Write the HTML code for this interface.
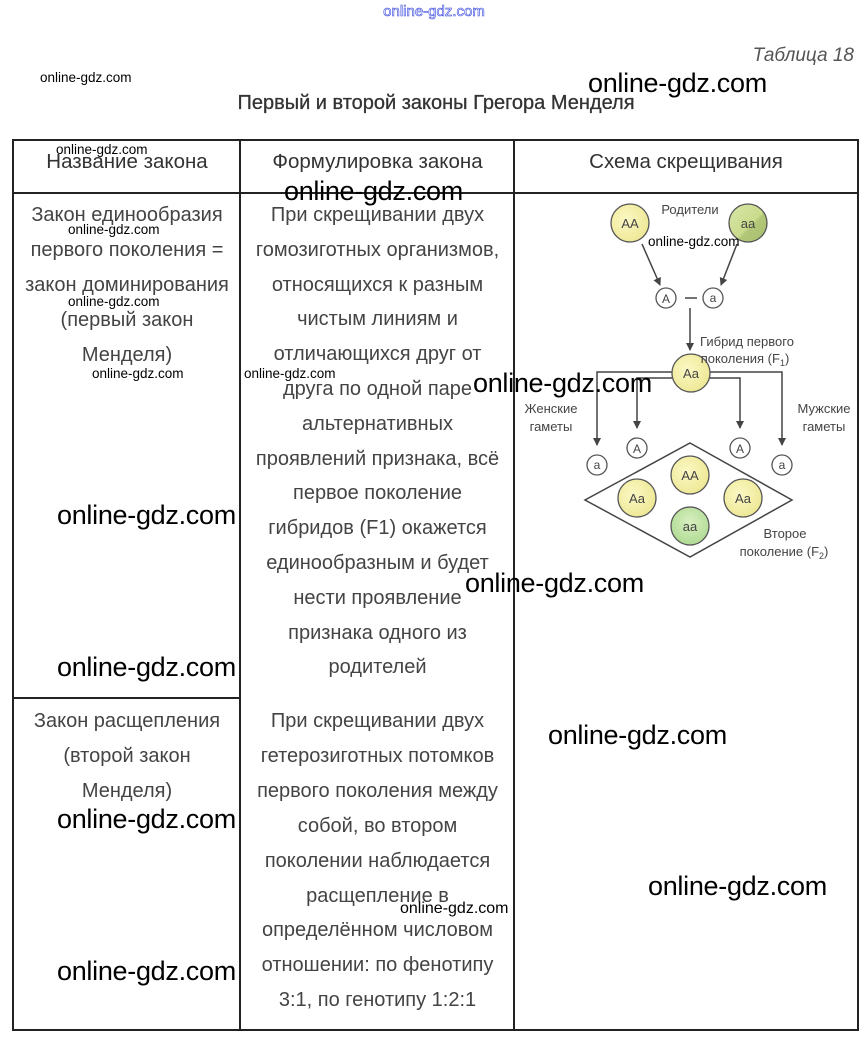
<!DOCTYPE html>
<html><head><meta charset="utf-8"><style>
body{margin:0;width:868px;height:1045px;background:#fff;position:relative;overflow:hidden;font-family:"Liberation Sans",sans-serif}
.t{position:absolute;font-size:20px;color:#444;line-height:20px;text-align:center;white-space:nowrap}
.w{position:absolute;color:#000;white-space:nowrap;line-height:1}
.wb{font-size:27px;letter-spacing:-0.3px}
.ws{font-size:13.5px}
.l{position:absolute;background:#222}
</style></head><body>
<div class="t" style="left:0;width:868px;top:2px;font-size:15px;color:#fff;-webkit-text-stroke:0.6px #3344dd">online-gdz.com</div>
<div class="t" style="right:14px;top:46px;font-style:italic;font-size:19px;color:#555">Таблица 18</div>
<div class="t" style="left:0;width:872px;top:93px;font-size:20px;color:#333;-webkit-text-stroke:0.3px #333">Первый и второй законы Грегора Менделя</div>

<div class="l" style="left:13px;top:139px;width:846px;height:2px"></div>
<div class="l" style="left:13px;top:192px;width:846px;height:2px"></div>
<div class="l" style="left:13px;top:697px;width:228px;height:2px"></div>
<div class="l" style="left:13px;top:1029px;width:846px;height:2px"></div>
<div class="l" style="left:12px;top:139px;width:2px;height:892px"></div>
<div class="l" style="left:239px;top:139px;width:2px;height:892px"></div>
<div class="l" style="left:513px;top:139px;width:2px;height:892px"></div>
<div class="l" style="left:857px;top:139px;width:2px;height:892px"></div>

<div class="t" style="left:14px;width:226px;top:152px;color:#333;font-size:20.5px">Название закона</div>
<div class="t" style="left:241px;width:273px;top:152px;color:#333;font-size:20.5px">Формулировка закона</div>
<div class="t" style="left:515px;width:342px;top:152px;color:#333;font-size:20.5px">Схема скрещивания</div>

<div class="t" style="left:14px;width:226px;top:198px;line-height:35px">Закон единообразия<br>первого поколения =<br>закон доминирования<br>(первый закон<br>Менделя)</div>
<div class="t" style="left:241px;width:273px;top:198px;line-height:34.8px">При скрещивании двух<br>гомозиготных организмов,<br>относящихся к разным<br>чистым линиям и<br>отличающихся друг от<br>друга по одной паре<br>альтернативных<br>проявлений признака, всё<br>первое поколение<br>гибридов (F1) окажется<br>единообразным и будет<br>нести проявление<br>признака одного из<br>родителей</div>

<div class="t" style="left:14px;width:226px;top:704px;line-height:35px">Закон расщепления<br>(второй закон<br>Менделя)</div>
<div class="t" style="left:241px;width:273px;top:704px;line-height:34.9px">При скрещивании двух<br>гетерозиготных потомков<br>первого поколения между<br>собой, во втором<br>поколении наблюдается<br>расщепление в<br>определённом числовом<br>отношении: по фенотипу<br>3:1, по генотипу 1:2:1</div>

<svg style="position:absolute;left:0;top:0" width="868" height="1045" font-family="Liberation Sans,sans-serif" font-size="13" fill="#555">
<defs>
<marker id="a" markerWidth="8" markerHeight="8" refX="7" refY="4" orient="auto" markerUnits="userSpaceOnUse"><path d="M0,0 L8,4 L0,8 Z" fill="#444"/></marker>
<radialGradient id="y" cx="0.4" cy="0.4" r="0.7"><stop offset="0" stop-color="#fbf8c4"/><stop offset="1" stop-color="#ece690"/></radialGradient>
<linearGradient id="g" x1="0" y1="0" x2="1" y2="1"><stop offset="0" stop-color="#d9e7a8"/><stop offset="0.55" stop-color="#c9db8c"/><stop offset="0.6" stop-color="#b3c778"/><stop offset="1" stop-color="#a9bd70"/></linearGradient>
<radialGradient id="g2" cx="0.5" cy="0.4" r="0.7"><stop offset="0" stop-color="#d9efc0"/><stop offset="1" stop-color="#a8d88c"/></radialGradient>
</defs>
<g stroke="#444" stroke-width="1.5" fill="none">
<line x1="642" y1="244" x2="660" y2="285" marker-end="url(#a)"/>
<line x1="737" y1="244" x2="721" y2="285" marker-end="url(#a)"/>
<line x1="685" y1="298" x2="697" y2="298"/>
<line x1="690" y1="308" x2="690" y2="350" marker-end="url(#a)"/>
<polyline points="672,372 597,372 597,445" marker-end="url(#a)"/>
<polyline points="672,378 637,378 637,428" marker-end="url(#a)"/>
<polyline points="709,378 740,378 740,428" marker-end="url(#a)"/>
<polyline points="709,372 782,372 782,445" marker-end="url(#a)"/>
<polygon points="690,443 792,500 690,557 585,500"/>
</g>
<g stroke="#555" stroke-width="1.3">
<circle cx="630" cy="223" r="19" fill="url(#y)"/>
<circle cx="748" cy="223" r="19" fill="url(#g)"/>
<circle cx="691" cy="373" r="19" fill="url(#y)"/>
<circle cx="690" cy="475" r="19" fill="url(#y)"/>
<circle cx="637" cy="498" r="19" fill="url(#y)"/>
<circle cx="743" cy="498" r="19" fill="url(#y)"/>
<circle cx="690" cy="526" r="19" fill="url(#g2)"/>
<circle cx="666" cy="298" r="10" fill="#fff"/>
<circle cx="713" cy="298" r="10" fill="#fff"/>
<circle cx="597" cy="465" r="10" fill="#fff"/>
<circle cx="637" cy="448" r="10" fill="#fff"/>
<circle cx="740" cy="448" r="10" fill="#fff"/>
<circle cx="782" cy="465" r="10" fill="#fff"/>
</g>
<g text-anchor="middle" fill="#444">
<text x="630" y="228">AA</text><text x="748" y="228">aa</text>
<text x="691" y="378">Aa</text><text x="690" y="480">AA</text>
<text x="637" y="503">Aa</text><text x="743" y="503">Aa</text><text x="690" y="531">aa</text>
<text x="666" y="303" font-size="12">A</text><text x="713" y="302" font-size="12">a</text>
<text x="597" y="469" font-size="12">a</text><text x="637" y="453" font-size="12">A</text>
<text x="740" y="453" font-size="12">A</text><text x="782" y="469" font-size="12">a</text>
<text x="690" y="214">Родители</text>
<text x="747" y="346">Гибрид первого</text>
<text x="745" y="363">поколения (F<tspan font-size="9" dy="3">1</tspan><tspan dy="-3">)</tspan></text>
<text x="551" y="413">Женские</text><text x="551" y="431">гаметы</text>
<text x="824" y="413">Мужские</text><text x="824" y="431">гаметы</text>
<text x="785" y="538">Второе</text>
<text x="784" y="556">поколение (F<tspan font-size="9" dy="3">2</tspan><tspan dy="-3">)</tspan></text>
</g>
</svg>

<div class="w ws" style="left:40px;top:71px">online-gdz.com</div>
<div class="w ws" style="left:56px;top:143px">online-gdz.com</div>
<div class="w ws" style="left:68px;top:223px">online-gdz.com</div>
<div class="w ws" style="left:68px;top:295px">online-gdz.com</div>
<div class="w ws" style="left:92px;top:367px">online-gdz.com</div>
<div class="w ws" style="left:244px;top:367px">online-gdz.com</div>
<div class="w ws" style="left:648px;top:235px">online-gdz.com</div>
<div class="w ws" style="left:400px;top:901px;font-size:16px">online-gdz.com</div>

<div class="w wb" style="left:588px;top:70px">online-gdz.com</div>
<div class="w wb" style="left:284px;top:178px">online-gdz.com</div>
<div class="w wb" style="left:473px;top:370px">online-gdz.com</div>
<div class="w wb" style="left:57px;top:502px">online-gdz.com</div>
<div class="w wb" style="left:465px;top:570px">online-gdz.com</div>
<div class="w wb" style="left:57px;top:654px">online-gdz.com</div>
<div class="w wb" style="left:548px;top:722px">online-gdz.com</div>
<div class="w wb" style="left:57px;top:806px">online-gdz.com</div>
<div class="w wb" style="left:648px;top:873px">online-gdz.com</div>
<div class="w wb" style="left:57px;top:958px">online-gdz.com</div>
</body></html>
